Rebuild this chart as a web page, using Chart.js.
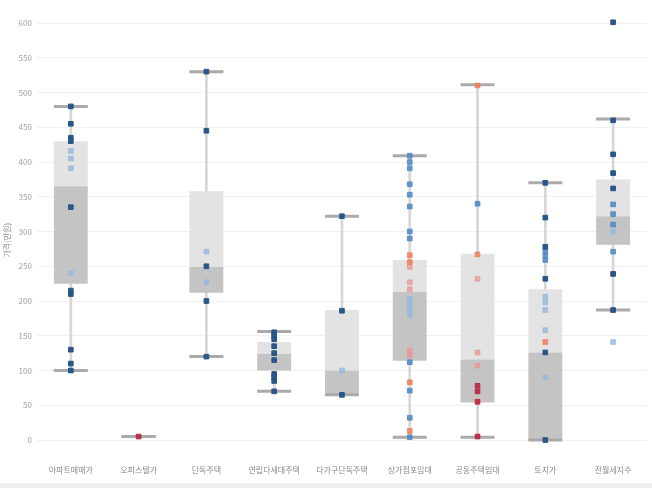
<!DOCTYPE html>
<html>
<head>
    <meta charset="UTF-8">
    <title>Box plot</title>
    <style>
        html, body { margin: 0; padding: 0; background: #efefef; }
        #wrap { width: 652px; height: 483px; background: #fff; }
    </style>
</head>
<body>
    <div id="wrap"><canvas id="myChart" width="652" height="483"></canvas></div>

    <script src="https://cdn.jsdelivr.net/npm/chart.js@4.4.1/dist/chart.umd.min.js"></script>
    <script>
        var categories = ['아파트매매가', '오피스텔가', '단독주택', '연립다세대주택', '다가구단독주택', '상가점포임대', '공동주택임대', '토지가', '전월세지수'];
        var yTicks = [0, 50, 100, 150, 200, 250, 300, 350, 400, 450, 500, 550, 600];

        // box statistics
        var whiskerMin = [100, 5, 120, 70, 65, 4, 4, 0, 187];
        var q1 = [225, 5, 212, 100, 64, 114, 54, 0, 281];
        var median = [365, 5, 249, 124, 100, 213, 116, 126, 322];
        var q3 = [430, 5, 358, 141, 187, 259, 268, 217, 375];
        var whiskerMax = [480, 5, 530, 156, 322, 409, 511, 370, 462];

        // observations by colour group, one list per category
        var darkBlue = [[480, 455, 435, 430, 335, 215, 210, 130, 110, 100], [], [530, 445, 250, 200, 120], [155, 150, 145, 135, 125, 115, 95, 90, 85, 70], [322, 186, 65], [], [], [370, 320, 278, 232, 126, 0], [601, 460, 411, 384, 362, 239, 187]];
        var midBlue = [[], [], [], [], [], [409, 400, 391, 368, 353, 336, 300, 290, 112, 71, 32, 4], [340], [272, 265, 259], [339, 325, 310, 271]];
        var paleBlue = [[416, 405, 391, 240], [], [271, 227], [], [100], [203, 195, 188, 180], [], [206, 198, 187, 158, 90], [300, 141]];
        var orange = [[], [], [], [], [], [266, 256, 83, 13], [510, 267], [141], []];
        var pink = [[], [], [], [], [], [249, 227, 217, 129, 122], [232, 126, 107], [], []];
        var crimson = [[], [5], [], [], [], [], [78, 70, 55, 5], [], []];

        var font = "'Noto Sans CJK KR', 'Noto Sans', sans-serif";

        function toPoints(group) {
            var out = [];
            group.forEach(function(list, i) {
                list.forEach(function(v) { out.push({ x: categories[i], y: v }); });
            });
            return out;
        }

        function pointSet(group, color, order) {
            return {
                type: 'scatter',
                data: toPoints(group),
                pointStyle: 'rect',
                radius: 3.3,
                backgroundColor: color,
                borderColor: color,
                borderWidth: 1,
                clip: false,
                order: order
            };
        }

        var caps = [];
        categories.forEach(function(c, i) {
            caps.push({ x: c, y: whiskerMin[i] });
            caps.push({ x: c, y: whiskerMax[i] });
        });

        new Chart('myChart', {
            type: 'bar',
            data: {
                labels: categories,
                datasets: [
                    {
                        data: categories.map(function(c, i) { return [whiskerMin[i], whiskerMax[i]]; }),
                        backgroundColor: '#d6d6d6',
                        barThickness: 2,
                        grouped: false,
                        order: 10
                    },
                    {
                        data: categories.map(function(c, i) { return [q1[i], median[i]]; }),
                        backgroundColor: '#c4c4c4',
                        barPercentage: 0.5,
                        categoryPercentage: 1,
                        grouped: false,
                        order: 9
                    },
                    {
                        data: categories.map(function(c, i) { return [median[i], q3[i]]; }),
                        backgroundColor: '#e3e3e3',
                        barPercentage: 0.5,
                        categoryPercentage: 1,
                        grouped: false,
                        order: 9
                    },
                    {
                        type: 'scatter',
                        data: caps,
                        pointStyle: 'line',
                        radius: 17,
                        borderWidth: 3,
                        borderColor: '#aaaaaa',
                        clip: false,
                        order: 8
                    },
                    pointSet(paleBlue, 'rgba(150,185,220,0.8)', 6),
                    pointSet(pink, 'rgba(232,150,150,0.75)', 5),
                    pointSet(orange, 'rgba(240,125,90,0.85)', 4),
                    pointSet(midBlue, 'rgba(80,135,195,0.85)', 3),
                    pointSet(crimson, 'rgba(185,35,65,0.9)', 2),
                    pointSet(darkBlue, '#2a5787', 1)
                ]
            },
            options: {
                responsive: false,
                animation: false,
                events: [],
                layout: { autoPadding: false, padding: { top: 23, right: 5, left: 0, bottom: 8 } },
                plugins: { legend: { display: false }, tooltip: { enabled: false } },
                scales: {
                    x: {
                        grid: { display: false },
                        border: { display: false },
                        ticks: { color: '#8a8a8a', font: { family: font, size: 8 }, padding: 0, maxRotation: 0 },
                        afterFit: function(scale) {
                            scale.paddingLeft = 0;
                            scale.paddingRight = 0;
                        }
                    },
                    y: {
                        min: -25,
                        max: 600,
                        afterBuildTicks: function(axis) {
                            axis.ticks = yTicks.map(function(v) { return { value: v }; });
                        },
                        grid: { color: '#f1f1f1', drawTicks: false },
                        border: { display: false },
                        ticks: { color: '#a0a0a0', font: { family: font, size: 8 }, padding: 5 },
                        title: { display: true, text: '가격(만원)', color: '#8a8a8a', font: { family: font, size: 8 }, padding: 2 }
                    }
                }
            }
        });
    </script>
</body>
</html>
